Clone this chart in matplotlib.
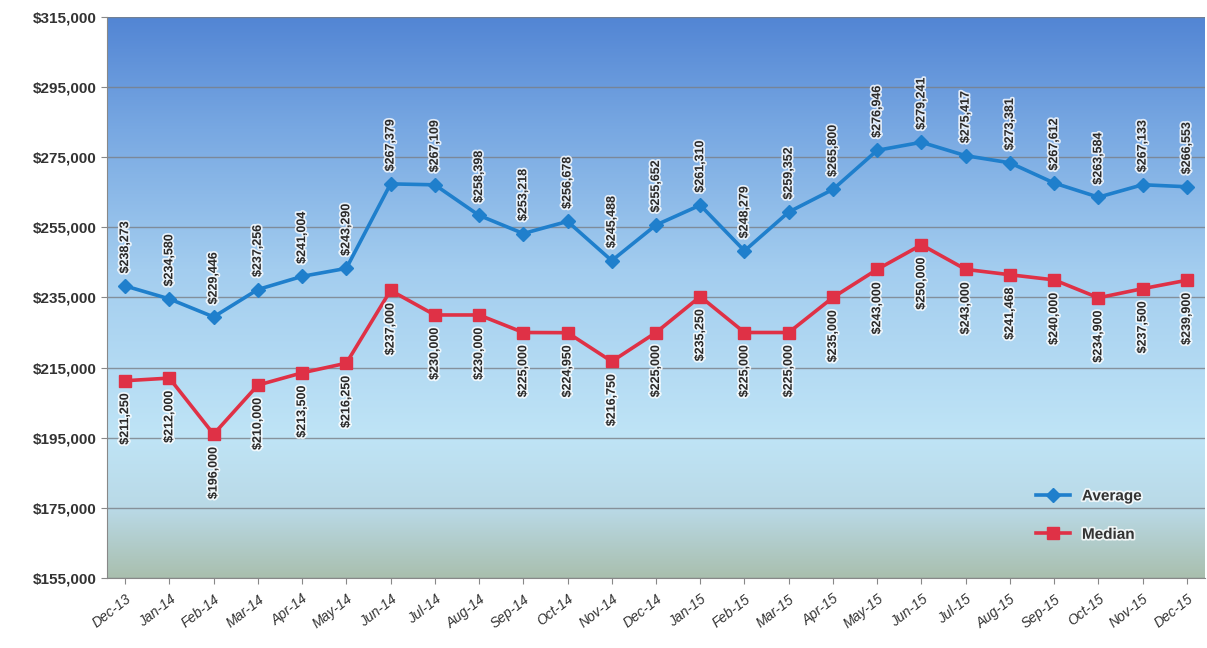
import numpy as np
import matplotlib.pyplot as plt
import matplotlib.patheffects as pe
from matplotlib.colors import LinearSegmentedColormap
from matplotlib.ticker import FuncFormatter

months = ["Dec-13", "Jan-14", "Feb-14", "Mar-14", "Apr-14", "May-14", "Jun-14",
          "Jul-14", "Aug-14", "Sep-14", "Oct-14", "Nov-14", "Dec-14", "Jan-15",
          "Feb-15", "Mar-15", "Apr-15", "May-15", "Jun-15", "Jul-15", "Aug-15",
          "Sep-15", "Oct-15", "Nov-15", "Dec-15"]
average = [238273, 234580, 229446, 237256, 241004, 243290, 267379, 267109,
           258398, 253218, 256678, 245488, 255652, 261310, 248279, 259352,
           265800, 276946, 279241, 275417, 273381, 267612, 263584, 267133, 266553]
median = [211250, 212000, 196000, 210000, 213500, 216250, 237000, 230000,
          230000, 225000, 224950, 216750, 225000, 235250, 225000, 225000,
          235000, 243000, 250000, 243000, 241468, 240000, 234900, 237500, 239900]
y_ticks = [155000, 175000, 195000, 215000, 235000, 255000, 275000, 295000, 315000]

plt.rcParams['font.family'] = ['Liberation Sans', 'DejaVu Sans']

fig = plt.figure(figsize=(12.07, 6.48), dpi=100)
ax = fig.add_axes([0.089, 0.108, 0.909, 0.866])

x = np.arange(len(months))
ax.set_xlim(-0.4, len(months) - 0.6)
ax.set_ylim(y_ticks[0], y_ticks[-1])

# gradient background (top dark blue -> light blue -> grey green)
cmap = LinearSegmentedColormap.from_list("bg", [
    (0.0, "#a9bfae"), (0.12, "#b9d9e6"), (0.25, "#bfe4f6"),
    (0.55, "#a3cdef"), (0.8, "#78a8e2"), (1.0, "#5285d4")])
grad = np.linspace(0, 1, 256).reshape(-1, 1)
ax.imshow(grad, extent=[0, 1, 0, 1], transform=ax.transAxes, origin="lower",
          aspect="auto", cmap=cmap, zorder=0)

ax.set_yticks(y_ticks)
ax.yaxis.set_major_formatter(FuncFormatter(lambda v, p: f"${v:,.0f}"))
ax.grid(axis="y", color="#7a7f86", linewidth=1.0, alpha=0.8, zorder=1)
ax.set_xticks(x)
ax.set_xticklabels(months, rotation=38, ha="right", rotation_mode="anchor",
                   fontsize=10, color="#333333", style="italic")
for lab in ax.get_yticklabels():
    lab.set_fontsize(11)
    lab.set_fontweight("bold")
    lab.set_color("#333333")
ax.tick_params(axis="both", length=4, color="#888888")
ax.tick_params(axis="x", pad=6)
for s in ["top", "right"]:
    ax.spines[s].set_visible(False)
ax.spines["left"].set_color("#888888")
ax.spines["bottom"].set_color("#888888")

ax.plot(x, average, color="#1f7fcc", linewidth=2.6, marker="D", markersize=7,
        label="Average", zorder=3)
ax.plot(x, median, color="#df3146", linewidth=2.6, marker="s", markersize=9,
        label="Median", zorder=3)

glow = [pe.withStroke(linewidth=2.5, foreground="white", alpha=0.8)]
for xi, v in zip(x, average):
    ax.annotate(f"${v:,}", (xi, v), xytext=(0, 9), textcoords="offset points",
                rotation=90, ha="center", va="bottom", fontsize=9,
                fontweight="bold", color="#2a2a2a", path_effects=glow, zorder=4)
for xi, v in zip(x, median):
    ax.annotate(f"${v:,}", (xi, v), xytext=(0, -9), textcoords="offset points",
                rotation=90, ha="center", va="top", fontsize=9,
                fontweight="bold", color="#2a2a2a", path_effects=glow, zorder=4)

leg = ax.legend(loc="lower right", bbox_to_anchor=(0.955, 0.04), frameon=False,
                fontsize=11, handlelength=2.2, labelspacing=1.6)
for t in leg.get_texts():
    t.set_fontweight("bold")
    t.set_color("#333333")
    t.set_path_effects(glow)

fig.savefig("out.png", dpi=100)
